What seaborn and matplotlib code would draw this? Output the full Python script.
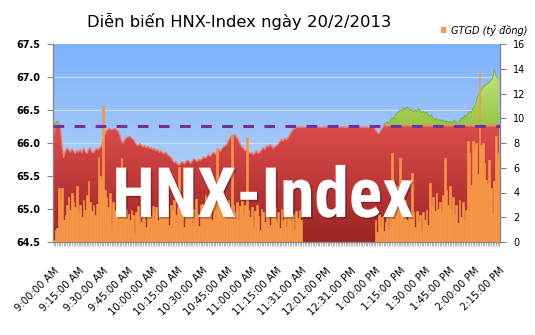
import numpy as np
import pandas as pd
import matplotlib
matplotlib.use("Agg")
import matplotlib.pyplot as plt
import seaborn as sns
from matplotlib import font_manager as fm
from matplotlib.transforms import blended_transform_factory
from matplotlib.colors import to_rgb
from matplotlib.patches import Patch
import matplotlib.patheffects as pe

# ---------------- data ----------------
title = "Diễn biến HNX-Index ngày 20/2/2013"
watermark = "HNX-Index"
legend_label = "GTGD (tỷ đồng)"
ref_level = 66.26

time_labels = ["9:00:00 AM", "9:15:00 AM", "9:30:00 AM", "9:45:00 AM", "10:00:00 AM",
               "10:15:00 AM", "10:30:00 AM", "10:45:00 AM", "11:00:00 AM", "11:15:00 AM",
               "11:31:00 AM", "12:01:00 PM", "12:31:00 PM", "1:00:00 PM", "1:15:00 PM",
               "1:30:00 PM", "1:45:00 PM", "2:00:00 PM", "2:15:00 PM"]

index_values = [
    66.10, 66.30, 66.33, 66.30, 66.22, 65.95, 65.78, 65.88, 65.92, 65.90, 65.86, 65.91, 65.88, 65.84, 65.89,
    65.86, 65.90, 65.85, 65.92, 65.88, 65.84, 65.90, 65.93, 65.87, 65.85, 65.89, 65.92, 65.90, 65.93, 65.96,
    66.05, 66.14, 66.19, 66.21, 66.22, 66.20, 66.21, 66.22, 66.20, 66.18, 66.12, 66.03, 66.00, 66.05, 66.08,
    66.09, 66.10, 66.08, 66.06, 66.02, 65.98, 65.96, 65.99, 65.97, 65.94, 65.96, 65.93, 65.95, 65.92, 65.93,
    65.90, 65.92, 65.88, 65.90, 65.86, 65.88, 65.85, 65.84, 65.86, 65.82, 65.80, 65.78, 65.74, 65.70, 65.72,
    65.68, 65.66, 65.70, 65.72, 65.68, 65.71, 65.74, 65.72, 65.69, 65.73, 65.76, 65.74, 65.72, 65.75, 65.74,
    65.76, 65.79, 65.77, 65.80, 65.82, 65.80, 65.84, 65.86, 65.83, 65.88, 65.90, 65.87, 65.92, 65.94, 65.96,
    65.98, 66.04, 66.08, 66.12, 66.10, 66.13, 66.08, 66.04, 65.98, 65.94, 65.92, 65.88, 65.90, 65.86, 65.84,
    65.86, 65.82, 65.85, 65.88, 65.84, 65.86, 65.90, 65.93, 65.90, 65.96, 65.94, 65.98, 65.95, 65.92, 65.94,
    65.96, 65.98, 66.02, 66.05, 66.03, 66.07, 66.05, 66.08, 66.12, 66.16, 66.20, 66.22, 66.23, 66.24, 66.24,
    66.24, 66.24, 66.24, 66.24, 66.24, 66.24, 66.24, 66.24, 66.24, 66.24, 66.24, 66.24, 66.24, 66.24, 66.24,
    66.24, 66.24, 66.24, 66.24, 66.24, 66.24, 66.24, 66.24, 66.24, 66.24, 66.24, 66.24, 66.24, 66.24, 66.24,
    66.24, 66.24, 66.24, 66.24, 66.24, 66.24, 66.24, 66.24, 66.24, 66.24, 66.24, 66.24, 66.24, 66.24, 66.24,
    66.20, 66.16, 66.14, 66.18, 66.22, 66.27, 66.30, 66.32, 66.30, 66.34, 66.38, 66.36, 66.42, 66.45, 66.47,
    66.50, 66.48, 66.54, 66.50, 66.55, 66.52, 66.49, 66.51, 66.47, 66.50, 66.48, 66.52, 66.50, 66.46, 66.48,
    66.45, 66.47, 66.42, 66.40, 66.43, 66.38, 66.35, 66.38, 66.34, 66.36, 66.33, 66.35, 66.32, 66.34, 66.31,
    66.33, 66.30, 66.32, 66.35, 66.31, 66.30, 66.33, 66.38, 66.36, 66.42, 66.40, 66.45, 66.48, 66.46, 66.52,
    66.55, 66.62, 66.70, 66.76, 66.80, 66.84, 66.86, 66.88, 66.90, 66.92, 66.95, 66.98, 67.12, 67.02, 66.99,
    66.98,
]

volume_values = [
    0.2, 1.0, 1.1, 4.4, 3.4, 4.4, 1.8, 2.2, 3.0, 3.6, 2.6, 4.0, 3.2, 2.8, 4.5,
    2.4, 3.0, 2.0, 3.4, 2.6, 3.8, 4.9, 3.2, 2.5, 3.0, 2.2, 3.1, 6.9, 5.3, 5.0,
    11.0, 4.2, 3.6, 2.8, 4.0, 1.4, 3.2, 2.6, 3.8, 2.4, 2.2, 6.8, 2.6, 2.0, 2.7,
    2.3, 1.8, 2.6, 2.2, 0.7, 2.4, 2.9, 2.0, 1.6, 2.5, 2.8, 1.2, 2.3, 2.6, 2.1,
    2.9, 2.4, 2.8, 1.8, 2.6, 3.2, 2.2, 3.6, 2.4, 2.9, 1.4, 3.0, 2.6, 3.4, 2.2,
    2.8, 6.1, 2.5, 3.4, 1.2, 2.9, 3.6, 2.2, 3.0, 1.5, 2.7, 3.5, 2.3, 1.3, 3.0,
    3.1, 2.4, 3.8, 2.0, 2.9, 4.0, 1.8, 3.2, 2.6, 7.6, 3.4, 2.9, 3.6, 2.7, 3.2,
    2.5, 3.4, 2.8, 8.6, 3.0, 2.4, 3.2, 1.8, 2.9, 3.3, 2.2, 3.0, 8.5, 2.6, 2.0,
    2.8, 1.2, 2.5, 3.0, 2.1, 1.0, 2.7, 2.4, 1.6, 2.9, 2.2, 1.4, 2.6, 2.0, 2.8,
    1.5, 2.4, 1.1, 2.7, 1.8, 2.5, 1.2, 2.2, 2.8, 1.6, 2.3, 1.0, 2.5, 1.9, 2.6,
    1.8, 0.0, 0.0, 0.0, 0.0, 0.0, 0.0, 0.0, 0.0, 0.0, 0.0, 0.0, 0.0, 0.0, 0.0,
    0.0, 0.0, 0.0, 0.0, 0.0, 0.0, 0.0, 0.0, 0.0, 0.0, 0.0, 0.0, 0.0, 0.0, 0.0,
    0.0, 0.0, 0.0, 0.0, 0.0, 0.0, 0.0, 0.0, 0.0, 0.0, 0.0, 0.0, 0.0, 0.0, 0.0,
    1.8, 0.8, 2.3, 1.2, 2.0, 0.9, 1.6, 2.2, 1.0, 2.0, 7.2, 3.0, 2.6, 4.5, 2.8,
    6.8, 3.0, 2.2, 3.4, 1.8, 2.6, 2.0, 5.6, 2.4, 1.2, 2.5, 1.6, 2.2, 1.0, 2.4,
    1.8, 2.6, 1.4, 4.8, 2.8, 3.6, 2.5, 4.0, 2.7, 3.2, 2.4, 3.8, 6.8, 4.2, 3.0,
    4.5, 2.7, 3.6, 2.2, 3.0, 1.5, 3.4, 2.0, 3.2, 1.8, 2.6, 8.2, 7.2, 4.6, 8.2,
    7.6, 8.0, 5.5, 13.7, 7.8, 8.0, 6.4, 5.0, 4.8, 6.6, 4.4, 2.3, 4.9, 8.6, 7.2,
    7.0,
]

assert len(index_values) == len(volume_values)

# ---------------- styling ----------------
plt.rcParams["font.family"] = ["DejaVu Sans"]
names = {f.name for f in fm.fontManager.ttflist}
if "Liberation Sans Narrow" in names:
    wm_font, wm_size = "Liberation Sans Narrow", 50
elif "Roboto Condensed" in names:
    wm_font, wm_size = "Roboto Condensed", 50
else:
    wm_font, wm_size = "Open Sans", 44

N = len(index_values)
pos = np.arange(N)
idx = np.array(index_values)
ymin, ymax = 64.5, 67.5
xmin, xmax = -0.5, N - 0.5
orange = "#f79646"

fig = plt.figure(figsize=(5.35, 3.35), dpi=100)
ax = fig.add_axes([53 / 535, 1 - 242 / 335, 447 / 535, 198 / 335])


def vgrad(stops):
    ys = np.linspace(ymin, ymax, 400)
    sy = [s for s, _ in stops]
    cols = np.array([to_rgb(c) for _, c in stops])
    arr = np.stack([np.interp(ys, sy, cols[:, i]) for i in range(3)], axis=-1)
    return arr[:, None, :]


# blue background
ax.imshow(vgrad([(64.5, "#c9def2"), (65.7, "#aacdf5"), (67.5, "#7db1fe")]),
          extent=[xmin, xmax, ymin, ymax], origin="lower", aspect="auto", zorder=0)
for v in [65.0, 65.5, 66.0, 66.5, 67.0]:
    ax.axhline(v, color="#c6dcfb", lw=0.8, zorder=0.5)


def shaded_fill(lower, upper, stops, z):
    poly = ax.fill_between(pos, lower, upper, facecolor="none", edgecolor="none", zorder=z)
    img = ax.imshow(vgrad(stops), extent=[xmin, xmax, ymin, ymax], origin="lower",
                    aspect="auto", interpolation="bilinear", zorder=z)
    img.set_clip_path(poly.get_paths()[0], transform=ax.transData)


# green (index above reference) then red (capped at reference)
shaded_fill(ymin, idx, [(64.5, "#86b63a"), (66.26, "#96c545"), (67.2, "#c8e684"), (67.5, "#c8e684")], 1)
ax.plot(pos, idx, color="#7ea83a", lw=0.6, zorder=1.2)
red_top = np.minimum(idx, ref_level)
shaded_fill(ymin, red_top, [(64.5, "#9a2424"), (65.5, "#c23a3a"), (66.26, "#dc4c4c"), (67.5, "#dc4c4c")], 2)
ax.plot(pos, red_top, color="#ef7d7d", lw=0.9, zorder=2.2)

# volume bars on the right axis
ax2 = ax.twinx()
df = pd.DataFrame({"pos": pos, "vol": volume_values})
sns.barplot(data=df, x="pos", y="vol", ax=ax2, native_scale=True, color=orange,
            saturation=1, width=1.0, errorbar=None, linewidth=0.45, edgecolor=orange)
for p in ax2.patches:
    if p.get_height() <= 0:
        p.set_edgecolor("none")

# reference dashed line
trans = blended_transform_factory(ax2.transAxes, ax.transData)
ax2.plot([0, 1], [ref_level, ref_level], transform=trans, color="#7030a0", lw=2.2,
         linestyle=(0, (3.5, 3.4)), dash_capstyle="butt", zorder=5)

# axes limits & ticks
ax.set_xlim(xmin, xmax)
ax.set_ylim(ymin, ymax)
ax2.set_xlim(xmin, xmax)
ax2.set_ylim(0, 16)
ax2.set_xlabel("")
ax2.set_ylabel("")
ax.set_yticks(np.arange(64.5, 67.51, 0.5))
ax.set_yticklabels([f"{v:.1f}" for v in np.arange(64.5, 67.51, 0.5)], fontweight="bold")
ax2.set_yticks(np.arange(0, 17, 2))
ax.set_xticks(pos[::15])
ax.set_xticks(pos, minor=True)

grey = "#868686"
ax.tick_params(axis="y", direction="out", length=4, width=0.8, color=grey, pad=5,
               labelsize=7, left=True, labelcolor="black")
ax.tick_params(axis="x", which="both", direction="out", length=3, width=0.5, color="#9a9a9a",
               bottom=True)
ax.tick_params(axis="x", which="major", pad=14, labelsize=7.3, labelcolor="black")
ax.set_xticklabels(time_labels, rotation=45, ha="right", va="top", rotation_mode="anchor")
ax2.tick_params(axis="y", direction="out", length=4.5, width=0.8, color=grey, pad=5,
                labelsize=7, right=True, labelcolor="black")

for s in ["top", "right"]:
    ax.spines[s].set_visible(False)
for s in ["left", "bottom"]:
    ax.spines[s].set_color(grey)
    ax.spines[s].set_linewidth(1.0)
for s in ["top", "left", "bottom"]:
    ax2.spines[s].set_visible(False)
ax2.spines["right"].set_color(grey)
ax2.spines["right"].set_linewidth(1.0)

# title, legend, watermark
fig.text(239 / 535, 1 - 27.4 / 335, title, ha="center", va="baseline", fontsize=11.8, color="black")
fig.legend(handles=[Patch(facecolor=orange, label=legend_label)], loc="center left",
           bbox_to_anchor=(441 / 535, 1 - 30 / 335), frameon=False, handlelength=0.55,
           handleheight=0.55, handletextpad=0.45, borderaxespad=0, borderpad=0,
           prop={"size": 7, "style": "italic"})
fig.text(263 / 535, 1 - 217 / 335, watermark, ha="center", va="baseline", fontsize=wm_size,
         fontweight="bold", color="white", family=wm_font,
         path_effects=[pe.withSimplePatchShadow(offset=(1.2, -1.2), shadow_rgbFace="black", alpha=0.25)])

fig.savefig("out.png", dpi=100)
